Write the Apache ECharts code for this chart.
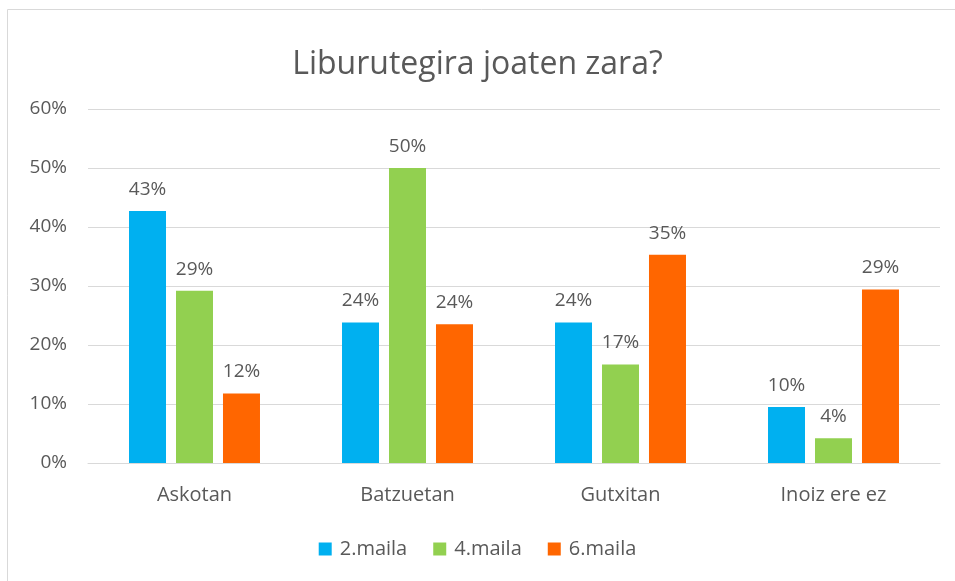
<!DOCTYPE html>
<html>
<head>
<meta charset="utf-8">
<script src="https://cdn.jsdelivr.net/npm/echarts@6/dist/echarts.min.js"></script>
<style>
  html, body { margin: 0; padding: 0; background: #fff; }
  #chart { width: 955px; height: 581px; }
</style>
</head>
<body>
<div id="chart"></div>
<script>
const categories = ['Askotan', 'Batzuetan', 'Gutxitan', 'Inoiz ere ez']
const maila2 = [42.7, 23.8, 23.8, 9.5]
const maila4 = [29.2, 50.0, 16.7, 4.2]
const maila6 = [11.8, 23.5, 35.3, 29.4]
const seriesNames = ['2.maila', '4.maila', '6.maila']
const colors = ['#00B0F0', '#92D050', '#FF6600']

const textColor = '#595959'
const font = 'Open Sans'

const chart = echarts.init(document.getElementById('chart'))

const makeSeries = (name, data, color) => ({
  name: name,
  type: 'bar',
  data: data,
  barWidth: 37,
  barGap: '27%',
  itemStyle: { color: color },
  label: {
    show: true,
    position: 'top',
    distance: 12,
    color: textColor,
    fontFamily: font,
    fontSize: 19,
    formatter: p => Math.round(p.value) + '%'
  }
})

const option = {
  animation: false,
  title: {
    text: 'Liburutegira joaten zara?',
    left: 'center',
    top: 44,
    textStyle: {
      color: textColor,
      fontFamily: font,
      fontSize: 32,
      fontWeight: 'normal'
    }
  },
  graphic: [{
    type: 'rect',
    shape: { x: 7.5, y: 9.5, width: 960, height: 590 },
    style: { fill: 'none', stroke: '#d9d9d9', lineWidth: 1 }
  }],
  legend: {
    data: seriesNames,
    bottom: 17,
    left: 'center',
    icon: 'rect',
    itemWidth: 13,
    itemHeight: 13,
    itemGap: 26,
    textStyle: { color: textColor, fontFamily: font, fontSize: 20, padding: [0, 0, 0, 3] }
  },
  grid: {
    top: 109,
    left: 88,
    right: 15,
    bottom: 118,
    containLabel: false
  },
  xAxis: {
    type: 'category',
    data: categories,
    axisLine: { lineStyle: { color: '#d9d9d9', width: 1 } },
    axisTick: { show: false },
    axisLabel: {
      color: textColor,
      fontFamily: font,
      fontSize: 20,
      margin: 22
    }
  },
  yAxis: {
    type: 'value',
    min: 0,
    max: 60,
    interval: 10,
    axisLine: { show: false },
    axisTick: { show: false },
    axisLabel: {
      color: textColor,
      fontFamily: font,
      fontSize: 19,
      margin: 21,
      formatter: '{value}%'
    },
    splitLine: { lineStyle: { color: '#d9d9d9', width: 1 } }
  },
  series: [
    makeSeries(seriesNames[0], maila2, colors[0]),
    makeSeries(seriesNames[1], maila4, colors[1]),
    makeSeries(seriesNames[2], maila6, colors[2])
  ]
}

chart.setOption(option)
</script>
</body>
</html>
